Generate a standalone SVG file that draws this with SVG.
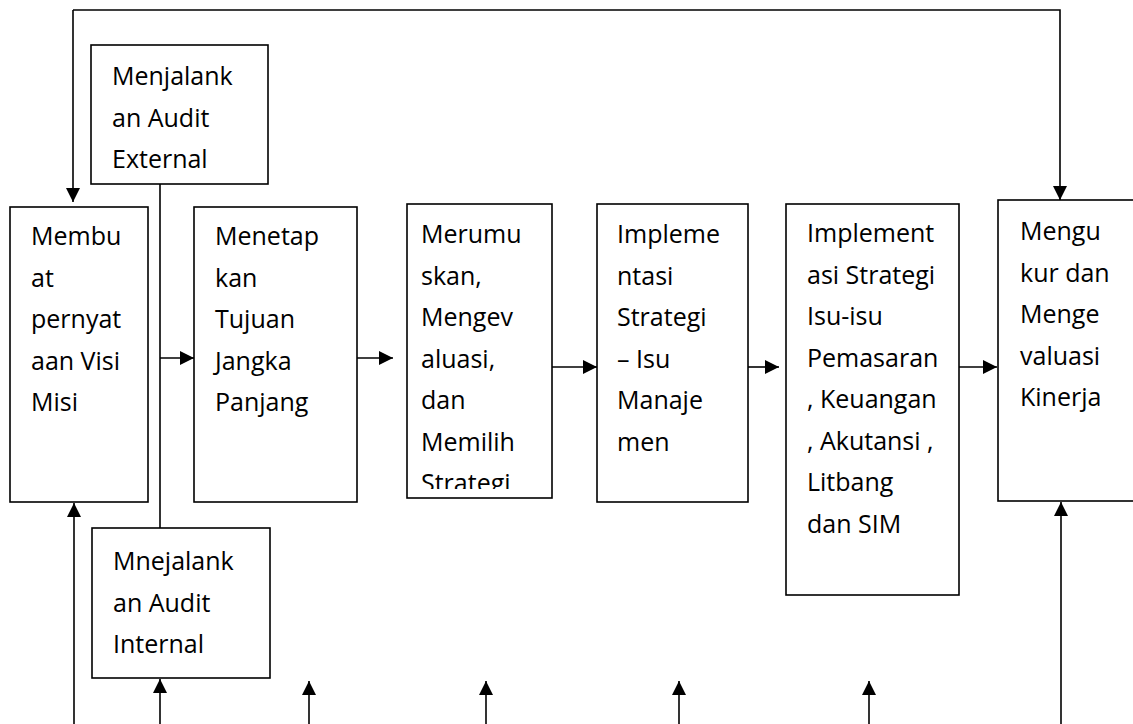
<svg xmlns="http://www.w3.org/2000/svg" width="1133" height="724" viewBox="0 0 1133 724">
<style>
.box{fill:#fff;stroke:#000;stroke-width:1.6}
.lbl{font-family:"Open Sans","Noto Sans",sans-serif;font-size:25px;fill:#000}
.ln{fill:none;stroke:#000;stroke-width:1.6}
</style>
<defs>
<marker id="ah" viewBox="0 0 14 14" refX="14" refY="7" markerWidth="14" markerHeight="14" markerUnits="userSpaceOnUse" orient="auto">
<path d="M0,0 L14,7 L0,14 Z" fill="#000"/>
</marker>
<clipPath id="clipMer"><rect x="407" y="204" width="145" height="285"/></clipPath>
</defs>
<rect width="1133" height="724" fill="#fff"/>

<g id="connectors">
<path class="ln" d="M73,10 L1060,10 L1060,200" marker-end="url(#ah)"/>
<path class="ln" d="M73,10 L73,202" marker-end="url(#ah)"/>
<line class="ln" x1="160" y1="184" x2="160" y2="528"/>
<line class="ln" x1="160" y1="358" x2="194" y2="358" marker-end="url(#ah)"/>
<line class="ln" x1="357" y1="358" x2="393" y2="358" marker-end="url(#ah)"/>
<line class="ln" x1="552" y1="367" x2="597" y2="367" marker-end="url(#ah)"/>
<line class="ln" x1="748" y1="367" x2="779" y2="367" marker-end="url(#ah)"/>
<line class="ln" x1="959" y1="367" x2="997" y2="367" marker-end="url(#ah)"/>
<line class="ln" x1="74" y1="724" x2="74" y2="503" marker-end="url(#ah)"/>
<line class="ln" x1="160" y1="724" x2="160" y2="679" marker-end="url(#ah)"/>
<line class="ln" x1="309" y1="724" x2="309" y2="681" marker-end="url(#ah)"/>
<line class="ln" x1="486" y1="724" x2="486" y2="681" marker-end="url(#ah)"/>
<line class="ln" x1="679" y1="724" x2="679" y2="681" marker-end="url(#ah)"/>
<line class="ln" x1="869" y1="724" x2="869" y2="681" marker-end="url(#ah)"/>
<line class="ln" x1="1061" y1="724" x2="1061" y2="502" marker-end="url(#ah)"/>
</g>

<g id="node-external">
<rect class="box" x="91" y="45" width="177" height="139"/>
<text class="lbl"><tspan x="112" y="85">Menjalank</tspan><tspan x="112" dy="41.5">an Audit</tspan><tspan x="112" dy="41.5">External</tspan></text>
</g>

<g id="node-internal">
<rect class="box" x="92" y="528" width="178" height="150"/>
<text class="lbl"><tspan x="113" y="570">Mnejalank</tspan><tspan x="113" dy="41.5">an Audit</tspan><tspan x="113" dy="41.5">Internal</tspan></text>
</g>

<g id="node-visi">
<rect class="box" x="10" y="207" width="138" height="295"/>
<text class="lbl"><tspan x="31" y="245">Membu</tspan><tspan x="31" dy="41.5">at</tspan><tspan x="31" dy="41.5">pernyat</tspan><tspan x="31" dy="41.5">aan Visi</tspan><tspan x="31" dy="41.5">Misi</tspan></text>
</g>

<g id="node-tujuan">
<rect class="box" x="194" y="207" width="163" height="295"/>
<text class="lbl"><tspan x="215" y="245">Menetap</tspan><tspan x="215" dy="41.5">kan</tspan><tspan x="215" dy="41.5">Tujuan</tspan><tspan x="215" dy="41.5">Jangka</tspan><tspan x="215" dy="41.5">Panjang</tspan></text>
</g>

<g id="node-strategi">
<rect class="box" x="407" y="204" width="145" height="294"/>
<g clip-path="url(#clipMer)">
<text class="lbl"><tspan x="421" y="243">Merumu</tspan><tspan x="421" dy="41.5">skan,</tspan><tspan x="421" dy="41.5">Mengev</tspan><tspan x="421" dy="41.5">aluasi,</tspan><tspan x="421" dy="41.5">dan</tspan><tspan x="421" dy="41.5">Memilih</tspan><tspan x="421" dy="41.5">Strategi</tspan></text>
</g>
</g>

<g id="node-manajemen">
<rect class="box" x="597" y="204" width="151" height="298"/>
<text class="lbl"><tspan x="617" y="243">Impleme</tspan><tspan x="617" dy="41.5">ntasi</tspan><tspan x="617" dy="41.5">Strategi</tspan><tspan x="617" dy="41.5">– Isu</tspan><tspan x="617" dy="41.5">Manaje</tspan><tspan x="617" dy="41.5">men</tspan></text>
</g>

<g id="node-fungsional">
<rect class="box" x="786" y="204" width="173" height="391"/>
<text class="lbl"><tspan x="807" y="242">Implement</tspan><tspan x="807" dy="41.5">asi Strategi</tspan><tspan x="807" dy="41.5">Isu-isu</tspan><tspan x="807" dy="41.5">Pemasaran</tspan><tspan x="807" dy="41.5">, Keuangan</tspan><tspan x="807" dy="41.5">, Akutansi ,</tspan><tspan x="807" dy="41.5">Litbang</tspan><tspan x="807" dy="41.5">dan SIM</tspan></text>
</g>

<g id="node-kinerja">
<rect class="box" x="998" y="200" width="145" height="301"/>
<text class="lbl"><tspan x="1020" y="240">Mengu</tspan><tspan x="1020" dy="41.5">kur dan</tspan><tspan x="1020" dy="41.5">Menge</tspan><tspan x="1020" dy="41.5">valuasi</tspan><tspan x="1020" dy="41.5">Kinerja</tspan></text>
</g>
</svg>
